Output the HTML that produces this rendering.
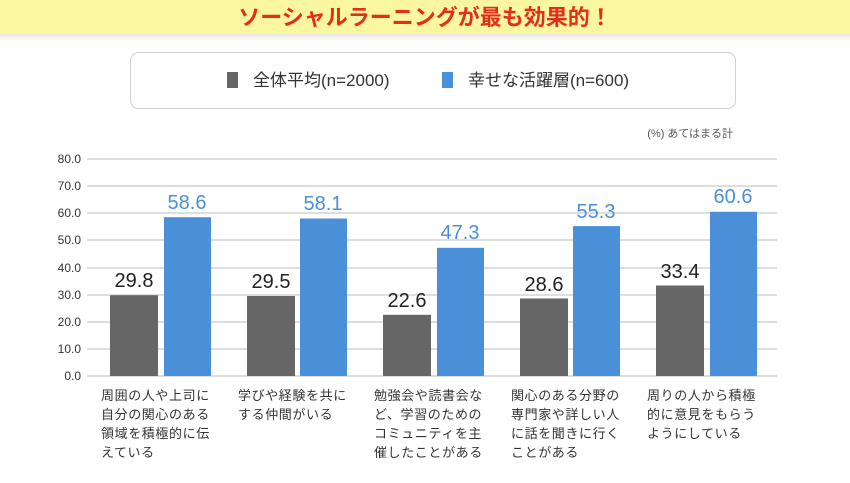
<!DOCTYPE html>
<html><head><meta charset="utf-8"><style>
body{margin:0;width:850px;height:478px;overflow:hidden;background:#fff;font-family:"Liberation Sans","Noto Sans CJK JP",sans-serif}
</style></head><body>
<svg width="850" height="478" xmlns="http://www.w3.org/2000/svg" font-family="Liberation Sans, Noto Sans CJK JP, sans-serif">
<defs><linearGradient id="sh" x1="0" y1="0" x2="0" y2="1"><stop offset="0" stop-color="#e8e8e8"/><stop offset="1" stop-color="#fff"/></linearGradient></defs>
<rect x="0" y="34" width="850" height="8" fill="url(#sh)"/>
<rect x="0" y="0" width="850" height="34" fill="#fbf6a0"/>
<text x="425" y="25" text-anchor="middle" font-size="22" font-weight="bold" fill="#e0301c">ソーシャルラーニングが最も効果的！</text>
<rect x="130.5" y="52.5" width="605" height="56" rx="8" fill="#fff" stroke="#d0d0d0"/>
<rect x="227" y="72" width="11" height="16" fill="#666"/>
<text x="253" y="86" font-size="17" fill="#333">全体平均(n=2000)</text>
<rect x="442" y="72" width="11" height="16" fill="#4a90d9"/>
<text x="468" y="86" font-size="17" fill="#333">幸せな活躍層(n=600)</text>
<text x="733" y="137" text-anchor="end" font-size="11" fill="#555">(%) あてはまる計</text>
<g stroke="#d4d4d4" stroke-width="1.5">
<line x1="87" y1="159" x2="777" y2="159"/><line x1="87" y1="186" x2="777" y2="186"/><line x1="87" y1="213" x2="777" y2="213"/><line x1="87" y1="240" x2="777" y2="240"/><line x1="87" y1="268" x2="777" y2="268"/><line x1="87" y1="295" x2="777" y2="295"/><line x1="87" y1="322" x2="777" y2="322"/><line x1="87" y1="349" x2="777" y2="349"/><line x1="87" y1="376" x2="777" y2="376"/>
</g>
<g font-size="12" fill="#333" text-anchor="end">
<text x="81" y="163">80.0</text><text x="81" y="190">70.0</text><text x="81" y="217">60.0</text><text x="81" y="244">50.0</text><text x="81" y="272">40.0</text><text x="81" y="299">30.0</text><text x="81" y="326">20.0</text><text x="81" y="353">10.0</text><text x="81" y="380">0.0</text>
</g>
<g>
<rect x="110" y="295.2" width="48" height="80.8" fill="#666"/><rect x="164" y="217.2" width="47" height="158.8" fill="#4a90d9"/>
<rect x="247" y="296" width="48" height="80" fill="#666"/><rect x="300" y="218.5" width="47" height="157.5" fill="#4a90d9"/>
<rect x="383" y="314.8" width="48" height="61.2" fill="#666"/><rect x="437" y="247.8" width="47" height="128.2" fill="#4a90d9"/>
<rect x="520" y="298.5" width="48" height="77.5" fill="#666"/><rect x="573" y="226.1" width="47" height="149.9" fill="#4a90d9"/>
<rect x="656" y="285.5" width="48" height="90.5" fill="#666"/><rect x="710" y="211.8" width="47" height="164.2" fill="#4a90d9"/>
</g>
<g font-size="20" text-anchor="middle" fill="#222">
<text x="134" y="287">29.8</text><text x="271" y="288">29.5</text><text x="407" y="307">22.6</text><text x="544" y="291">28.6</text><text x="680" y="278">33.4</text>
</g>
<g font-size="20" text-anchor="middle" fill="#4a90d9">
<text x="187" y="209">58.6</text><text x="323" y="210">58.1</text><text x="460" y="239">47.3</text><text x="596" y="218">55.3</text><text x="733" y="203">60.6</text>
</g>
<g font-size="13" fill="#333" letter-spacing="0.6">
<text x="101" y="400">周囲の人や上司に</text><text x="101" y="419">自分の関心のある</text><text x="101" y="438">領域を積極的に伝</text><text x="101" y="457">えている</text>
<text x="238" y="400">学びや経験を共に</text><text x="238" y="419">する仲間がいる</text>
<text x="374" y="400">勉強会や読書会な</text><text x="374" y="419">ど、学習のための</text><text x="374" y="438">コミュニティを主</text><text x="374" y="457">催したことがある</text>
<text x="511" y="400">関心のある分野の</text><text x="511" y="419">専門家や詳しい人</text><text x="511" y="438">に話を聞きに行く</text><text x="511" y="457">ことがある</text>
<text x="647" y="400">周りの人から積極</text><text x="647" y="419">的に意見をもらう</text><text x="647" y="438">ようにしている</text>
</g>
</svg>
</body></html>
